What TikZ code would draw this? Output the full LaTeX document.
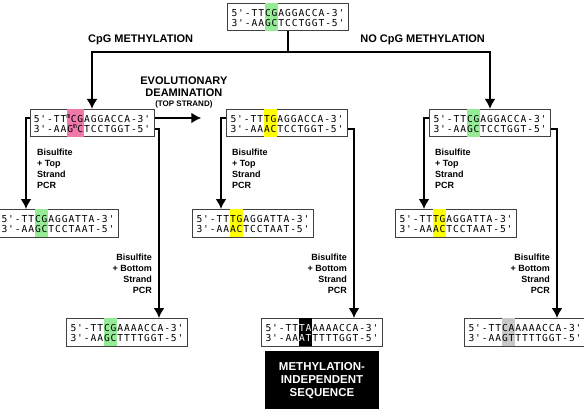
\documentclass[tikz,border=0pt]{standalone}
\usepackage{fontspec}
\setmainfont{Liberation Sans}
\newfontfamily\seqfont{DejaVu Sans Mono}
\usetikzlibrary{positioning, arrows.meta}

\definecolor{cpggreen}{RGB}{150,235,150}
\definecolor{mcpink}{RGB}{240,120,170}
\definecolor{tgyellow}{RGB}{255,255,0}
\definecolor{cagrey}{RGB}{200,200,200}

% every base in a cell of its own width
\newlength\seqw
\setlength\seqw{6.7pt}
\newcommand\meC{}
\def\spacedloop#1{\ifx#1\relax\else\ifx#1\meC\makebox[3.5pt]{\textsuperscript{m}}\else\makebox[\seqw]{#1}\fi\expandafter\spacedloop\fi}
\newcommand\spaced[1]{\spacedloop#1\relax}

% one strand row: strut, colour, text colour, before, marked pair, after
\newcommand\seqrow[6]{%
  \hbox{\hspace{3.5pt}\spaced{#4}{\setlength{\fboxsep}{0pt}\colorbox{#2}{#1\color{#3}\spaced{#5}}}\spaced{#6}\hspace{3.5pt}#1}}
\newcommand\dna[8][black]{\vbox{\offinterlineskip
  \seqrow{\rule[-1.5pt]{0pt}{14.5pt}}{#2}{#1}{#3}{#4}{#5}
  \seqrow{\rule[-4.5pt]{0pt}{13pt}}{#2}{#1}{#6}{#7}{#8}}}

\begin{document}
\begin{tikzpicture}[x=1pt, y=-1pt,
    conn/.style={line width=2.2pt},
    arr/.style={-{Latex[length=10pt,width=11pt]}},
    seqbox/.style={draw=black!75, line width=0.6pt, fill=white, inner sep=0pt,
      font=\seqfont\fontsize{9.6}{11}\selectfont},
    lbl/.style={font=\bfseries\fontsize{11}{12}\selectfont, inner sep=0pt},
    steplbl/.style={font=\bfseries\fontsize{9}{11}\selectfont, inner sep=0pt}]
    \useasboundingbox (0,0) rectangle (584,409);

    \node[seqbox] (top) at (288,17) {\dna{cpggreen}{5'-TT}{CG}{AGGACCA-3'}{3'-AA}{GC}{TCCTGGT-5'}};

    \node[seqbox] (L1) at (92,123) {\dna{mcpink}{5'-TT}{\meC CG}{AGGACCA-3'}{3'-AA}{G\meC C}{TCCTGGT-5'}};
    \node[seqbox] (M1) at (287,123) {\dna{tgyellow}{5'-TT}{TG}{AGGACCA-3'}{3'-AA}{AC}{TCCTGGT-5'}};
    \node[seqbox] (R1) at (490,123) {\dna{cpggreen}{5'-TT}{CG}{AGGACCA-3'}{3'-AA}{GC}{TCCTGGT-5'}};

    \node[seqbox] (L2) [below=72pt of L1, xshift=-34pt] {\dna{cpggreen}{5'-TT}{CG}{AGGATTA-3'}{3'-AA}{GC}{TCCTAAT-5'}};
    \node[seqbox] (M2) [below=72pt of M1, xshift=-34pt] {\dna{tgyellow}{5'-TT}{TG}{AGGATTA-3'}{3'-AA}{AC}{TCCTAAT-5'}};
    \node[seqbox] (R2) [below=72pt of R1, xshift=-34pt] {\dna{tgyellow}{5'-TT}{TG}{AGGATTA-3'}{3'-AA}{AC}{TCCTAAT-5'}};

    \node[seqbox] (L3) [below=181pt of L1, xshift=35pt] {\dna{cpggreen}{5'-TT}{CG}{AAAACCA-3'}{3'-AA}{GC}{TTTTGGT-5'}};
    \node[seqbox] (M3) [below=181pt of M1, xshift=35pt] {\dna[white]{black}{5'-TT}{TA}{AAAACCA-3'}{3'-AA}{AT}{TTTTGGT-5'}};
    \node[seqbox] (R3) [below=181pt of R1, xshift=35pt] {\dna{cagrey}{5'-TT}{CA}{AAAACCA-3'}{3'-AA}{GT}{TTTTGGT-5'}};

    \node[fill=black, text=white, align=center, minimum width=114pt, minimum height=58pt,
      font=\bfseries\fontsize{11.5}{13}\selectfont] (indep) [below=5pt of M3]
      {METHYLATION-\\INDEPENDENT\\SEQUENCE};

    \coordinate (fork) at (288,52);
    \node[lbl, anchor=west] (meth) at (88,40) {CpG METHYLATION};
    \node[lbl, anchor=east] (nometh) at (485,40) {NO CpG METHYLATION};

    \draw[conn] (top.south) -- (fork);
    \draw[conn, arr] (fork) -| (L1.north);
    \draw[conn, arr] (fork) -| (R1.north);

    \draw[conn, arr] ([yshift=5pt]L1.east) -- ([yshift=5pt, xshift=-25pt]M1.west)
      node[midway, above=9pt, xshift=6pt, lbl, align=center]
      {EVOLUTIONARY\\DEAMINATION\\[-2pt]{\fontsize{8}{9}\selectfont (TOP STRAND)}};

    \draw[conn, arr] ([yshift=5pt]L1.west) -| ([xshift=-32pt]L2.north)
      node[pos=0.78, right=10pt, steplbl, align=left] {Bisulfite\\+ Top\\Strand\\PCR};
    \draw[conn, arr] ([yshift=-6pt]L1.east) -| ([xshift=32pt]L3.north)
      node[pos=0.884, left=6pt, steplbl, align=right] {Bisulfite\\+ Bottom\\Strand\\PCR};

    \draw[conn, arr] ([yshift=5pt]M1.west) -| ([xshift=-32pt]M2.north)
      node[pos=0.78, right=10pt, steplbl, align=left] {Bisulfite\\+ Top\\Strand\\PCR};
    \draw[conn, arr] ([yshift=-6pt]M1.east) -| ([xshift=32pt]M3.north)
      node[pos=0.884, left=6pt, steplbl, align=right] {Bisulfite\\+ Bottom\\Strand\\PCR};

    \draw[conn, arr] ([yshift=5pt]R1.west) -| ([xshift=-32pt]R2.north)
      node[pos=0.78, right=10pt, steplbl, align=left] {Bisulfite\\+ Top\\Strand\\PCR};
    \draw[conn, arr] ([yshift=-6pt]R1.east) -| ([xshift=32pt]R3.north)
      node[pos=0.884, left=6pt, steplbl, align=right] {Bisulfite\\+ Bottom\\Strand\\PCR};
\end{tikzpicture}
\end{document}
